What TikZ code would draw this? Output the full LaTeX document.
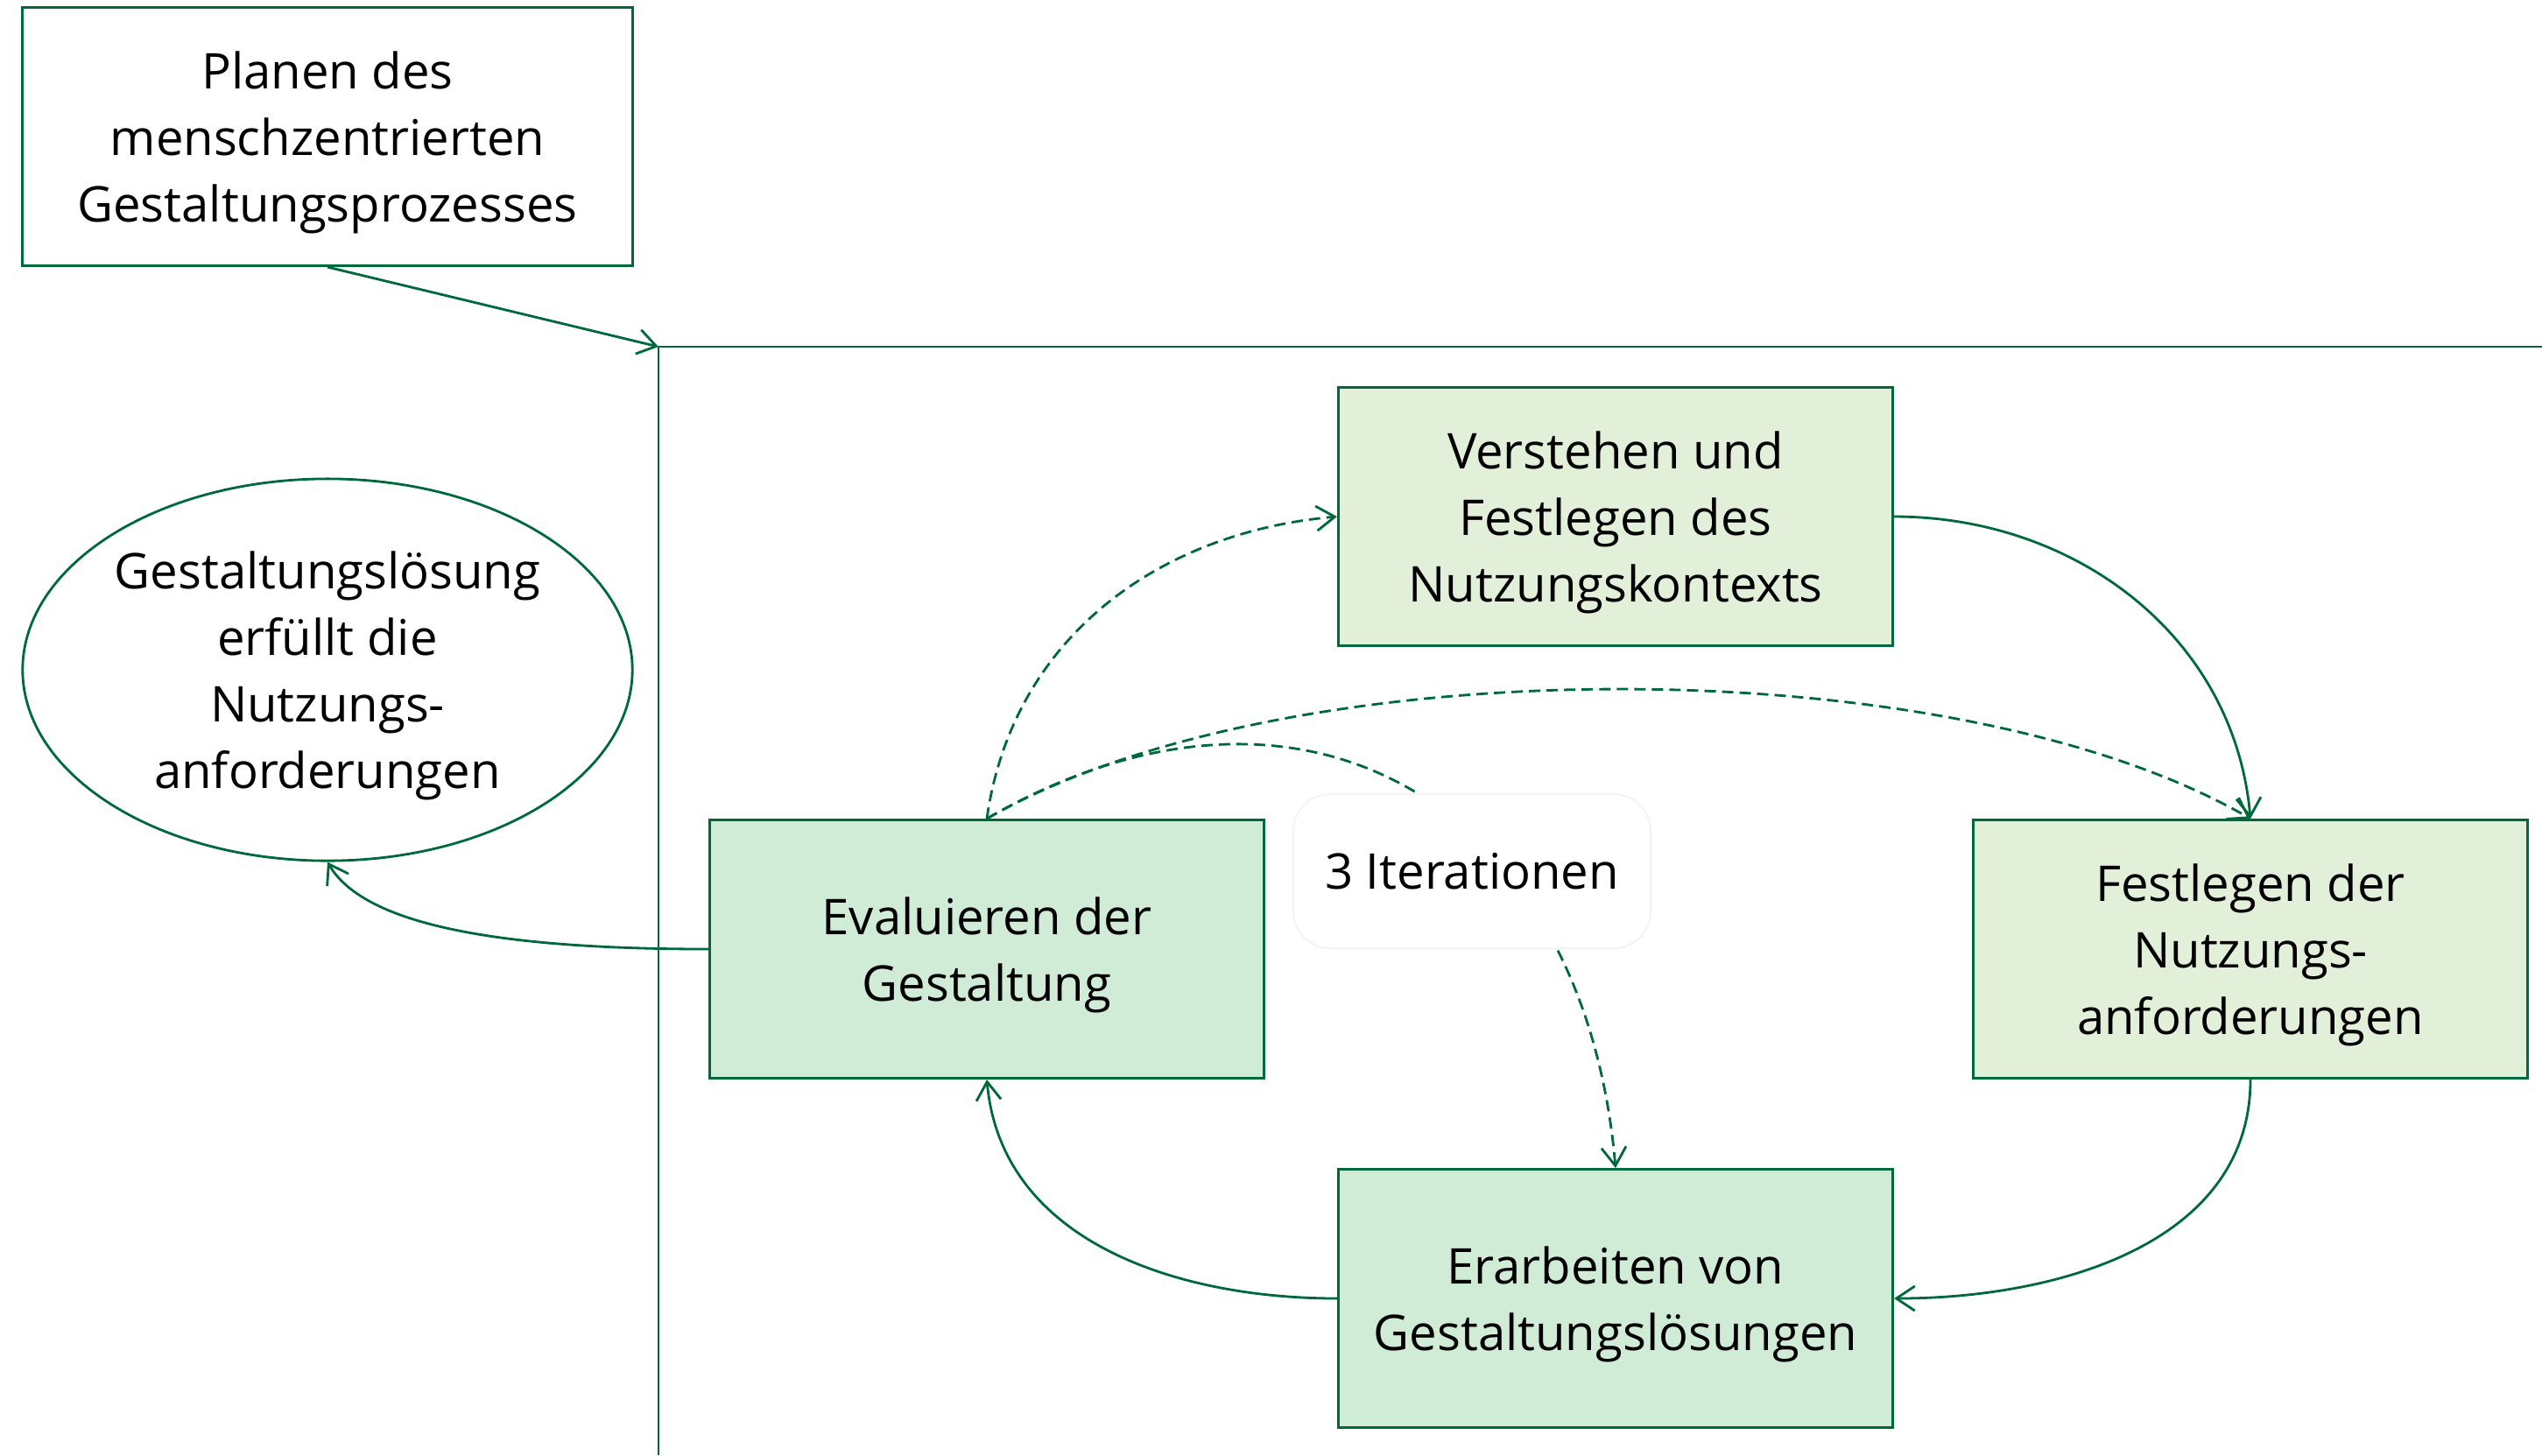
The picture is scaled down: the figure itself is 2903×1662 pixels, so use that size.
\documentclass[tikz,border=0pt]{standalone}
\usepackage{fontspec}
\setmainfont{Open Sans}
\usetikzlibrary{shapes.geometric,arrows.meta}
\definecolor{dgreen}{RGB}{0,105,60}
\definecolor{paleA}{RGB}{226,239,217}
\definecolor{paleB}{RGB}{208,236,214}
\begin{document}
\begin{tikzpicture}[x=0.01cm, y=-0.01cm, ->, >={Straight Barb[length=6pt,width=8pt]},
  line width=0.8pt, draw=dgreen,
  box text/.style={align=center, inner sep=0pt, draw=dgreen, line width=0.8pt, text depth=-0.8pt},
  main node/.style={rectangle, box text, minimum width=6.33cm, minimum height=2.95cm},
  loop edge/.style={dgreen, dash pattern=on 3.7pt off 2pt}]
        \tikzstyle{every node}=[font=\fontsize{16}{21.6}\selectfont]
        \useasboundingbox (0,0) rectangle (2903,1662);

          \node[main node, minimum width=6.96cm] (1) at (374,156) {Planen des\\menschzentrierten\\Gestaltungsprozesses};
          \node[ellipse, box text, minimum width=6.96cm, minimum height=4.36cm] (2) at (374,765) {Gestaltungslösung\\erfüllt die\\Nutzungs-\\anforderungen};
          \node[main node, fill=paleA] (3) at (1845,590) {Verstehen und\\Festlegen des\\Nutzungskontexts};
          \node[main node, fill=paleA] (4) at (2570,1084) {Festlegen der\\Nutzungs-\\anforderungen};
          \node[main node, fill=paleB] (5) at (1845,1483) {Erarbeiten von\\Gestaltungslösungen};
          \node[main node, fill=paleB] (6) at (1127,1084) {Evaluieren der\\Gestaltung};
          \coordinate (c) at (752,396);

          % Rahmen
          \draw[-, dgreen] (c) -- (2903,396);
          \draw[-, dgreen] (c) -- (752,1662);
          \draw[dgreen] (1.south) -- (c);

          \path[dgreen]
            (3.east) edge[out=0, in=95] (4.north)
            (4.south) edge[out=-90, in=0] (5.east)
            (5.west) edge[out=180, in=-85] (6.south)
            (6.west) edge[out=180, in=-60, out looseness=1.43, in looseness=0.46] (2.south);

          \path[loop edge]
            (6.north) edge[out=82, in=185] (3.west)
                      edge[out=30, in=150, looseness=0.7] (4.north)
                      edge[out=30, in=95, looseness=1.3] (5.north);

          \node[rectangle, rounded corners=12pt, fill=white, draw=black!6, line width=0.4pt,
            minimum width=4.08cm, minimum height=1.76cm] (7) at (1681,995) {3 Iterationen};
        \end{tikzpicture}
\end{document}
